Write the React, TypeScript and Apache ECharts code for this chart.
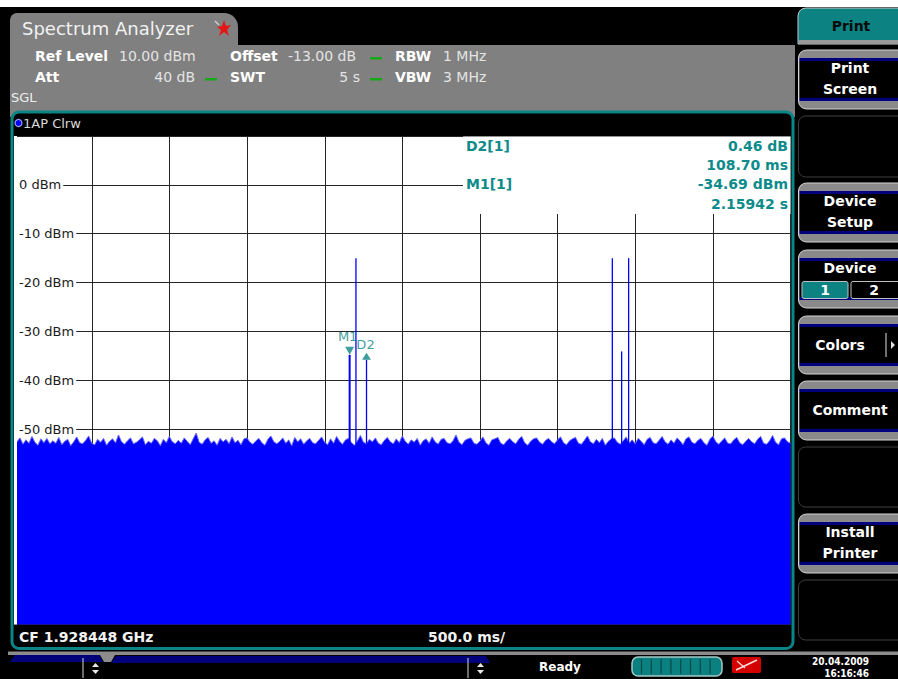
import React, { useEffect, useRef } from "react";
import * as echarts from "echarts";

// ---- data ----
const refLevel = 10;
const yMin = -90;
const yStep = 10;
const labeledLevels = [0, -10, -20, -30, -40, -50];
const sweepSeconds = 5;
const divSeconds = 0.5;

const noiseTop = [
  -52.6, -51.8, -53.1, -52.2, -52.9, -51.5, -52.7, -53.3, -52.0, -52.8, -51.9, -53.0, -52.4, -52.9, -51.7, -53.2, -52.5, -52.1, -53.4, -52.6,
  -51.6, -52.8, -53.0, -52.3, -51.4, -52.9, -53.2, -52.1, -52.7, -51.9, -53.3, -52.5, -52.0, -52.8, -51.2, -52.6, -53.1, -52.4, -51.8, -53.0,
  -52.7, -52.2, -51.6, -53.2, -52.5, -52.9, -51.9, -52.4, -53.4, -52.1, -52.8, -51.5, -52.6, -53.0, -52.3, -52.9, -51.8, -52.5, -53.2, -52.0,
  -50.8, -52.7, -53.1, -52.2, -51.7, -52.9, -52.4, -53.3, -51.9, -52.6, -52.1, -53.0, -51.6, -52.8, -52.3, -53.2, -52.0, -51.8, -52.7, -53.1,
  -52.4, -51.9, -52.8, -53.3, -52.1, -51.4, -52.6, -53.0, -52.5, -51.8, -52.9, -52.2, -53.4, -51.7, -52.6, -52.0, -53.1, -52.4, -51.9, -52.8,
  -53.0, -52.3, -51.6, -52.7, -53.2, -52.0, -52.9, -51.5, -52.5, -53.1, -52.2, -51.9, -52.8, -53.3, -52.4, -51.3, -52.7, -53.0, -52.1, -52.6,
  -51.8, -52.9, -53.2, -52.3, -51.7, -52.6, -53.0, -52.0, -52.8, -51.4, -52.5, -53.1, -52.2, -52.7, -51.9, -53.3, -52.4, -52.0, -52.9, -51.6,
  -52.6, -53.1, -52.1, -51.9, -52.8, -53.0, -52.4, -51.2, -52.7, -53.2, -52.3, -52.0, -51.8, -52.9, -53.1, -52.5, -51.6, -52.8, -53.3, -52.2,
  -52.0, -51.7, -52.9, -53.2, -52.4, -51.9, -52.6, -53.0, -52.1, -51.5, -52.8, -53.3, -52.5, -52.0, -51.8, -52.7, -53.1, -52.3, -51.9, -52.6,
  -53.0, -52.2, -51.6, -52.8, -53.2, -52.4, -52.0, -51.7, -52.9, -53.1, -52.3, -51.4, -52.6, -53.0, -52.1, -52.8, -51.9, -53.3, -52.5, -52.0,
  -51.8, -52.7, -53.1, -52.4, -51.6, -52.9, -52.2, -53.0, -51.9, -52.5, -53.2, -52.1, -51.7, -52.8, -53.0, -52.3, -51.5, -52.6, -53.1, -52.2,
  -52.9, -51.8, -52.4, -53.2, -52.0, -51.6, -52.7, -53.0, -52.3, -51.9, -52.8, -53.3, -52.1, -51.4, -52.6, -53.1, -52.4, -51.8, -52.9, -53.0,
  -52.2, -51.7, -52.8, -53.2, -52.5, -51.9, -52.6, -53.0, -52.1, -51.5, -52.9, -53.1, -52.4, -51.3, -52.7, -53.2, -52.0, -51.8, -52.6, -52.9,
];

const spikeBase = -53;
const spikeTimes = [2.15942, 2.2, 2.26812, 3.852, 3.912, 3.957];
const spikePeaks = [-34.8, -15.0, -35.8, -15.0, -34.1, -15.0];

const markerNames = ["M1", "D2"];
const markerTimes = [2.15942, 2.26812];
const markerLevels = [-34.8, -35.8];

const readoutLabels = ["D2[1]", "", "M1[1]", ""];
const readoutValues = ["0.46 dB", "108.70 ms", "-34.69 dBm", "2.15942 s"];

const headerRow1 = [["Ref Level", "10.00 dBm"], ["Offset", "-13.00 dB"], ["RBW", "1 MHz"]];
const headerRow2 = [["Att", "40 dB"], ["SWT", "5 s"], ["VBW", "3 MHz"]];

const centerFreq = "CF 1.928448 GHz";
const timePerDiv = "500.0 ms/";
const traceTitle = "1AP Clrw";
const appTitle = "Spectrum Analyzer";
const dateText = "20.04.2009";
const timeText = "16:16:46";
const statusText = "Ready";

// ---- styles ----
const FONT = '"DejaVu Sans", Verdana, sans-serif';
const TEAL = "#0b8585";
const BLUE = "#0000ff";

function buildGraphics() {
  const els: any[] = [];
  const rect = (x: number, y: number, w: number, h: number, fill: string, o: any = {}) =>
    els.push({
      type: "rect",
      shape: { x, y, width: w, height: h, r: o.r ?? 0 },
      style: { fill, stroke: o.stroke ?? null, lineWidth: o.lw ?? 0 },
      z: o.z ?? 0,
      silent: true,
    });
  const text = (x: number, y: number, t: string, o: any = {}) =>
    els.push({
      type: "text",
      x,
      y,
      style: {
        text: t,
        fill: o.fill ?? "#ffffff",
        font: o.font ?? `14px ${FONT}`,
        align: o.align ?? "left",
        textAlign: o.align ?? "left",
        verticalAlign: "middle",
        textVerticalAlign: "middle",
      },
      z: o.z ?? 0,
      silent: true,
    });
  const line = (x1: number, y1: number, x2: number, y2: number, stroke: string, lw = 1, z = 0) =>
    els.push({ type: "line", shape: { x1, y1, x2, y2 }, style: { stroke, lineWidth: lw }, z, silent: true });
  const poly = (points: number[][], fill: string, z = 0) =>
    els.push({ type: "polygon", shape: { points }, style: { fill }, z, silent: true });

  // background
  rect(0, 0, 898, 679, "#000");
  rect(0, 0, 898, 7, "#fff");

  // tab + header panel
  rect(10, 13, 228, 40, "#808080", { r: [7, 14, 0, 0] });
  rect(10, 45, 785, 72, "#808080");
  text(22, 28, appTitle, { font: `18px ${FONT}`, fill: "#f2f2f2" });
  // pin icon
  poly([[224, 20], [226, 26], [231, 25], [227, 30], [229, 36], [224, 32], [219, 36], [221, 30], [217, 27], [222, 26]], "#e51515");
  line(215, 21, 219, 25, "#d0d0d0", 1.5);

  const hdrBold = `bold 14px ${FONT}`;
  const hdrNorm = `14px ${FONT}`;
  const green = "#16a816";
  text(35, 56, headerRow1[0][0], { font: hdrBold });
  text(119, 56, headerRow1[0][1], { font: hdrNorm, fill: "#e4e4e4" });
  text(230, 56, headerRow1[1][0], { font: hdrBold });
  text(288, 56, headerRow1[1][1], { font: hdrNorm, fill: "#e4e4e4" });
  rect(370, 57, 12, 2.5, green);
  text(395, 56, headerRow1[2][0], { font: hdrBold });
  text(443, 56, headerRow1[2][1], { font: hdrNorm, fill: "#e4e4e4" });
  text(35, 77, headerRow2[0][0], { font: hdrBold });
  text(195, 77, headerRow2[0][1], { font: hdrNorm, fill: "#e4e4e4", align: "right" });
  rect(205, 78, 12, 2.5, green);
  text(230, 77, headerRow2[1][0], { font: hdrBold });
  text(360, 77, headerRow2[1][1], { font: hdrNorm, fill: "#e4e4e4", align: "right" });
  rect(370, 78, 12, 2.5, green);
  text(395, 77, headerRow2[2][0], { font: hdrBold });
  text(443, 77, headerRow2[2][1], { font: hdrNorm, fill: "#e4e4e4" });
  text(11, 97, "SGL", { font: `13px ${FONT}`, fill: "#ececec" });

  // frame
  rect(12, 112, 781, 536.5, "#000", { r: 7, stroke: TEAL, lw: 3 });
  rect(14.5, 136, 776, 488.5, "#fff");
  els.push({ type: "circle", shape: { cx: 18.5, cy: 123, r: 3.5 }, style: { fill: "#0000ee", stroke: "#9aa0ff", lineWidth: 1.2 }, z: 0, silent: true });
  text(23, 123, traceTitle, { font: `13px ${FONT}`, fill: "#d8d8d8" });
  text(19, 637, centerFreq, { font: `bold 14px ${FONT}`, fill: "#f2f2f2" });
  text(428, 637, timePerDiv, { font: `bold 14px ${FONT}`, fill: "#f2f2f2" });

  // left white margin of the trace area (covers grid-line ends)
  rect(14, 136, 3, 488.5, "#fff", { z: 3 });

  // marker readout box
  rect(463, 136.5, 327.5, 77.5, "#fff", { z: 10 });
  const rY = [146, 165, 184, 204];
  readoutLabels.forEach((l, i) => {
    if (l) text(466, rY[i], l, { font: `bold 14px ${FONT}`, fill: "#0d8b8b", z: 11 });
    text(788, rY[i], readoutValues[i], { font: `bold 14px ${FONT}`, fill: "#0d8b8b", align: "right", z: 11 });
  });

  // softkeys
  const kx = 798;
  const kw = 112;
  rect(kx, 8, kw, 36, "#0c8282", { r: [8, 8, 0, 0], stroke: "#cccccc", lw: 1 });
  rect(kx + 1, 40, kw, 4, "#9a9a9a");
  text(851, 26, "Print", { font: `bold 14px ${FONT}`, fill: "#0a0a0a", align: "center" });

  const keys: any[] = [
    { y: 50, h: 59, lines: ["Print", "Screen"] },
    { y: 116, h: 61, empty: true },
    { y: 183, h: 59, lines: ["Device", "Setup"] },
    { y: 250, h: 58, lines: ["Device"], toggle: true },
    { y: 316, h: 58, lines: ["Colors"], arrow: true },
    { y: 381, h: 59, lines: ["Comment"] },
    { y: 447, h: 60, empty: true },
    { y: 514, h: 59, lines: ["Install", "Printer"] },
    { y: 580, h: 60, empty: true },
  ];
  const kFont = `bold 14px ${FONT}`;
  keys.forEach((k) => {
    if (k.empty) {
      rect(kx + 0.5, k.y, kw, k.h, "#000", { r: 7, stroke: "#3e3e3e", lw: 1 });
      return;
    }
    rect(kx + 0.5, k.y, kw, k.h, "#8a8a8a", { r: 8, stroke: "#d2d2d2", lw: 1 });
    rect(kx + 1.5, k.y + 8, kw, 3, "#00007c");
    rect(kx + 1.5, k.y + 11, kw, k.h - 22, "#000");
    rect(kx + 1.5, k.y + k.h - 11, kw, 3, "#00007c");
    if (k.lines.length === 2) {
      text(850, k.y + 18, k.lines[0], { font: kFont, align: "center" });
      text(850, k.y + 39, k.lines[1], { font: kFont, align: "center" });
    } else if (k.toggle) {
      text(850, k.y + 18, k.lines[0], { font: kFont, align: "center" });
      rect(802, k.y + 31.5, 46, 17, "#0c8282", { r: 2, stroke: "#c0c0c0", lw: 1 });
      rect(851, k.y + 31.5, 50, 17, "#000", { r: 2, stroke: "#c0c0c0", lw: 1 });
      text(825, k.y + 40, "1", { font: kFont, align: "center" });
      text(874, k.y + 40, "2", { font: kFont, align: "center" });
    } else if (k.arrow) {
      text(840, k.y + 29, k.lines[0], { font: kFont, align: "center" });
      line(886, k.y + 17, 886, k.y + 41, "#e0e0e0", 1);
      poly([[891, k.y + 25], [895, k.y + 29], [891, k.y + 33]], "#e0e0e0");
    } else {
      text(850, k.y + 29, k.lines[0], { font: kFont, align: "center" });
    }
  });

  // status bar
  rect(8, 651.5, 890, 3.5, "#8c8c8c");
  poly([[10, 662], [15, 655], [99, 655], [103, 662]], "#00007a");
  poly([[100, 655], [115, 655], [111, 662], [104, 662]], "#8c8c8c");
  poly([[111, 663], [116, 656], [486, 656], [490, 663]], "#00007a");
  const arrows = (lx: number) => {
    line(lx, 658, lx, 678, "#d8d8d8", 1);
    poly([[lx + 9, 667], [lx + 16, 667], [lx + 12.5, 663]], "#e8e8e8");
    poly([[lx + 9, 670], [lx + 16, 670], [lx + 12.5, 674]], "#e8e8e8");
  };
  arrows(83);
  arrows(468);
  text(539, 667, statusText, { font: `bold 12px ${FONT}` });
  rect(632, 657, 90, 19, "#0a8080", { r: 6, stroke: "#a8c8c8", lw: 1.5 });
  for (let k = 0; k < 8; k++) line(641.5 + k * 9.8, 659, 641.5 + k * 9.8, 674, "#044848", 1.2);
  rect(732, 657, 29, 16, "#d40000", { r: 2 });
  line(736, 670, 757, 660, "#ffdada", 1.5);
  line(737, 661, 745, 668, "#ffdada", 1.2);
  const small = `bold 10px "DejaVu Sans Condensed", "DejaVu Sans", sans-serif`;
  text(869, 661, dateText, { font: small, align: "right" });
  text(869, 673, timeText, { font: small, align: "right" });

  return els.map((e, i) => ({ ...e, z2: i }));
}

function buildOption() {
  const spikeSeries = spikeTimes.map((t, i) => ({
    type: "line",
    xAxisIndex: 0,
    yAxisIndex: 0,
    data: [[t, spikeBase], [t, spikePeaks[i]]],
    symbol: "none",
    lineStyle: { color: BLUE, width: i === 0 ? 2 : 1.3 },
    z: 4,
    silent: true,
  }));
  const markerSeries = markerNames.map((name, i) => ({
    type: "scatter",
    xAxisIndex: 0,
    yAxisIndex: 0,
    data: [[markerTimes[i], markerLevels[i]]],
    symbol: i === 0 ? "path://M0,0 L10,0 L5,9 Z" : "triangle",
    symbolSize: i === 0 ? [9, 8] : [9, 7],
    symbolOffset: i === 0 ? [0, -4] : [0, -3.5],
    itemStyle: { color: TEAL },
    label: {
      show: true,
      formatter: name,
      position: "top",
      distance: i === 0 ? 4 : 2,
      offset: i === 0 ? [-2, 0] : [-1, 0],
      color: TEAL,
      fontFamily: FONT,
      fontSize: 13,
    },
    z: 5,
    silent: true,
  }));

  const yBase = {
    type: "value",
    min: yMin,
    max: refLevel,
    interval: yStep,
    axisLine: { show: false },
    axisTick: { show: false },
  };

  return {
    animation: false,
    backgroundColor: "#000",
    grid: [
      { left: 14.5, top: 136, width: 776, height: 488.5, show: false, containLabel: false },
      { left: 17, top: 136, width: 773.5, height: 488.5, show: false, containLabel: false },
    ],
    xAxis: [
      {
        type: "value",
        gridIndex: 0,
        min: 0,
        max: sweepSeconds,
        interval: divSeconds,
        axisLine: { show: false },
        axisTick: { show: false },
        axisLabel: { show: false },
        splitLine: { show: true, lineStyle: { color: "#262626", width: 1 } },
        z: 1,
      },
      {
        type: "category",
        gridIndex: 1,
        data: noiseTop.map((_, i) => String(i)),
        boundaryGap: false,
        show: false,
      },
    ],
    yAxis: [
      {
        ...yBase,
        gridIndex: 0,
        axisLabel: { show: false },
        splitLine: { show: true, lineStyle: { color: "#262626", width: 1 } },
        z: 1,
      },
      {
        ...yBase,
        gridIndex: 0,
        position: "left",
        offset: 0,
        splitLine: { show: false },
        axisLabel: {
          show: true,
          inside: true,
          margin: 0,
          showMaxLabel: false,
          showMinLabel: false,
          color: "#1c1c1c",
          fontFamily: FONT,
          fontSize: 13,
          backgroundColor: "#ffffff",
          padding: [1, 2, 1, 4.5],
          formatter: (v: number) => (labeledLevels.includes(v) ? `${v} dBm` : ""),
        },
        z: 2,
      },
      {
        ...yBase,
        gridIndex: 1,
        show: false,
      },
    ],
    series: [
      {
        type: "line",
        xAxisIndex: 1,
        yAxisIndex: 2,
        data: noiseTop,
        symbol: "none",
        lineStyle: { color: "#6a6aff", width: 1 },
        areaStyle: { color: BLUE, opacity: 1, origin: "start" },
        z: 3,
        silent: true,
      },
      ...spikeSeries,
      ...markerSeries,
    ],
    graphic: { elements: buildGraphics() },
  };
}

export default function App() {
  const ref = useRef<HTMLDivElement>(null);
  useEffect(() => {
    document.body.style.margin = "0";
    const chart = echarts.init(ref.current as HTMLDivElement, null, { renderer: "svg", width: 898, height: 679 });
    chart.setOption(buildOption() as any);
    return () => chart.dispose();
  }, []);
  return <div ref={ref} style={{ width: 898, height: 679 }} />;
}
